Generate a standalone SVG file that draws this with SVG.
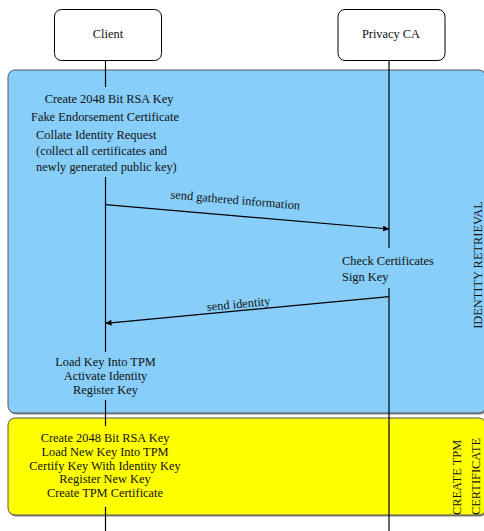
<svg xmlns="http://www.w3.org/2000/svg" width="484" height="531" viewBox="0 0 484 531">
<style>
text{font-family:"Liberation Serif","Times New Roman",serif;font-size:12.4px;fill:#111}
.life{stroke:#000;stroke-width:1.2;fill:none}
.box{fill:#fff;stroke:#000;stroke-width:1}
.msg{stroke:#000;stroke-width:1.2;fill:none;marker-end:url(#ah)}
.c{text-anchor:middle}
</style>
<defs>
<marker id="ah" viewBox="0 0 10 10" refX="10" refY="5" markerWidth="10" markerHeight="6" markerUnits="userSpaceOnUse" orient="auto">
<path d="M0,0 L10,5 L0,10 z" fill="#000"/>
</marker>
</defs>
<rect width="484" height="531" fill="#fff"/>
<g id="region-identity">
<rect x="9" y="71.5" width="478" height="343" rx="7" fill="#888"/>
<rect x="8" y="70" width="478" height="343" rx="7" fill="#87CEFA" stroke="#555" stroke-width="1"/>
<text transform="translate(482,265) rotate(-90)" class="c">IDENTITY RETRIEVAL</text>
</g>
<g id="region-tpm">
<rect x="9" y="419.5" width="478" height="97" rx="7" fill="#888"/>
<rect x="8" y="418" width="478" height="97" rx="7" fill="#FFFF00" stroke="#555" stroke-width="1"/>
<text transform="translate(461,515) rotate(-90)">CREATE TPM</text>
<text transform="translate(480,515) rotate(-90)">CERTIFICATE</text>
</g>
<g id="connectors">
<line class="life" x1="105.5" y1="61" x2="105.5" y2="87"/>
<line class="life" x1="105.5" y1="177" x2="105.5" y2="352"/>
<line class="life" x1="105.5" y1="400" x2="105.5" y2="426"/>
<line class="life" x1="105.5" y1="507" x2="105.5" y2="531"/>
<line class="life" x1="389" y1="61" x2="389" y2="248"/>
<line class="life" x1="389" y1="288" x2="389" y2="531"/>
<line class="msg" x1="105.5" y1="204.7" x2="389" y2="229"/>
<text transform="translate(235,204) rotate(4.9)" class="c">send gathered information</text>
<line class="msg" x1="389" y1="296.7" x2="105.5" y2="323.3"/>
<text transform="translate(239,308) rotate(-5.4)" class="c">send identity</text>
</g>
<g id="client">
<rect class="box" x="54.5" y="9.5" width="107" height="51" rx="7"/>
<text x="108" y="38" class="c">Client</text>
</g>
<g id="privacy-ca">
<rect class="box" x="338" y="9.5" width="107" height="51" rx="7"/>
<text x="391" y="38" class="c">Privacy CA</text>
</g>
<g id="client-step1">
<text x="109" y="103" class="c">Create 2048 Bit RSA Key</text>
<text x="105" y="121" class="c">Fake Endorsement Certificate</text>
<text x="36" y="139">Collate Identity Request</text>
<text x="36" y="155">(collect all certificates and</text>
<text x="36" y="171">newly generated public key)</text>
</g>
<g id="ca-step">
<text x="342" y="265">Check Certificates</text>
<text x="342" y="281">Sign Key</text>
</g>
<g id="client-step2">
<text x="105.5" y="366" class="c">Load Key Into TPM</text>
<text x="105.5" y="380" class="c">Activate Identity</text>
<text x="105.5" y="394" class="c">Register Key</text>
</g>
<g id="client-step3">
<text x="105" y="442" class="c">Create 2048 Bit RSA Key</text>
<text x="105" y="456" class="c">Load New Key Into TPM</text>
<text x="105" y="470" class="c">Certify Key With Identity Key</text>
<text x="105" y="483" class="c">Register New Key</text>
<text x="105" y="497" class="c">Create TPM Certificate</text>
</g>
</svg>
